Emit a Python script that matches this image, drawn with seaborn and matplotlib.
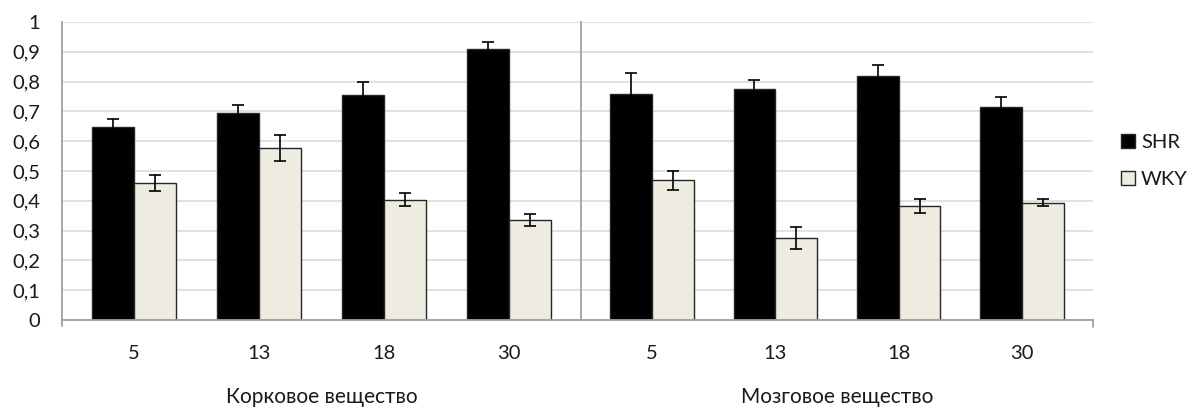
import matplotlib
matplotlib.use("Agg")
import matplotlib.pyplot as plt
from matplotlib.lines import Line2D
from matplotlib.patches import Patch
import numpy as np
import pandas as pd
import seaborn as sns

# Ages (weeks) and tissue regions
ages = ["5", "13", "18", "30"]
regions = ["Корковое вещество", "Мозговое вещество"]
strains = ["SHR", "WKY"]

# Mean values per age
cortex_shr = [0.648, 0.696, 0.755, 0.910]
cortex_wky = [0.460, 0.577, 0.404, 0.335]
medulla_shr = [0.760, 0.776, 0.819, 0.716]
medulla_wky = [0.469, 0.275, 0.383, 0.394]

# Error half-widths per age
cortex_shr_err = [0.026, 0.025, 0.042, 0.022]
cortex_wky_err = [0.027, 0.045, 0.022, 0.020]
medulla_shr_err = [0.070, 0.031, 0.037, 0.031]
medulla_wky_err = [0.032, 0.036, 0.024, 0.013]

y_ticks = [0, 0.1, 0.2, 0.3, 0.4, 0.5, 0.6, 0.7, 0.8, 0.9, 1.0]
y_tick_labels = ["0", "0,1", "0,2", "0,3", "0,4", "0,5", "0,6", "0,7", "0,8", "0,9", "1"]

values = {
    (regions[0], "SHR"): (cortex_shr, cortex_shr_err),
    (regions[0], "WKY"): (cortex_wky, cortex_wky_err),
    (regions[1], "SHR"): (medulla_shr, medulla_shr_err),
    (regions[1], "WKY"): (medulla_wky, medulla_wky_err),
}

rows = []
for (region, strain), (vals, errs) in values.items():
    for age, v, e in zip(ages, vals, errs):
        rows.append({"region": region, "age": age, "strain": strain, "value": v, "err": e})
df = pd.DataFrame(rows)

sns.set_style("white")
plt.rcParams["font.family"] = ["Lato", "DejaVu Sans"]
FS = 14.5
plt.rcParams["font.size"] = FS

palette = {"SHR": "#000000", "WKY": "#eeece1"}
spine_color = "#a0a0a0"
grid_color = "#d9d9d9"
text_color = "#1a1a1a"

W, H = 1193, 408
fig = plt.figure(figsize=(W / 100, H / 100), dpi=100)

x0, xs, x1 = 62, 581, 1093
ytop, ybot = 22, 320
ax1 = fig.add_axes([x0 / W, 1 - ybot / H, (xs - x0) / W, (ybot - ytop) / H])
ax2 = fig.add_axes([xs / W, 1 - ybot / H, (x1 - xs) / W, (ybot - ytop) / H])

for ax, region in zip([ax1, ax2], regions):
    sub = df[df["region"] == region]
    sns.barplot(data=sub, x="age", y="value", hue="strain", order=ages,
                hue_order=strains, palette=palette, width=0.675,
                errorbar=None, edgecolor="#262626", linewidth=1.0,
                saturation=1, legend=False, ax=ax)
    # error bars placed at the centres of the drawn bars
    for cont, strain in zip(ax.containers, strains):
        errs = sub[sub["strain"] == strain].set_index("age").loc[ages, "err"].to_numpy()
        xc = [b.get_x() + b.get_width() / 2 for b in cont]
        hts = [b.get_height() for b in cont]
        ax.errorbar(xc, hts, yerr=errs, fmt="none", ecolor="black",
                    elinewidth=1.2, capsize=4.3, capthick=1.2, zorder=5)

    ax.set_xlim(-0.575, 3.575)
    ax.set_ylim(0, 1)
    ax.set_yticks(y_ticks)
    ax.yaxis.grid(True, color=grid_color, linewidth=1.1)
    ax.xaxis.grid(False)
    ax.set_axisbelow(True)
    ax.set_xlabel("")
    ax.set_ylabel("")
    ax.tick_params(axis="x", length=0, pad=18, labelsize=FS, colors=text_color)
    for side in ["top", "right"]:
        ax.spines[side].set_visible(False)
    ax.spines["bottom"].set_color(spine_color)
    ax.spines["bottom"].set_linewidth(1.3)
    ax.spines["left"].set_color(spine_color)
    ax.spines["left"].set_linewidth(1.3)
    ax.text(0.5, -0.258, region, transform=ax.transAxes, ha="center",
            va="center", fontsize=FS + 0.5, color=text_color)

ax1.set_yticklabels(y_tick_labels)
ax1.tick_params(axis="y", length=6.5, width=1.0, color=spine_color, pad=9,
                labelsize=FS, labelcolor=text_color)
ax2.tick_params(axis="y", left=False, labelleft=False)

# short tick marks below the category axis at both ends
for xp, ylen in [(x0, 6), (x1, 7)]:
    fig.add_artist(Line2D([xp / W, xp / W], [1 - ybot / H, 1 - (ybot + ylen) / H],
                          transform=fig.transFigure, color=spine_color, lw=1.3))

handles = [Patch(facecolor=palette[s], edgecolor="#262626", linewidth=1.0) for s in strains]
fig.legend(handles, strains, loc="center left",
           bbox_to_anchor=(1121 / W, 1 - 161 / H), frameon=False,
           borderpad=0, borderaxespad=0,
           handlelength=0.7, handleheight=0.7, handletextpad=0.3,
           labelspacing=0.95, fontsize=FS, labelcolor=text_color)

fig.savefig("out.png", dpi=100)
